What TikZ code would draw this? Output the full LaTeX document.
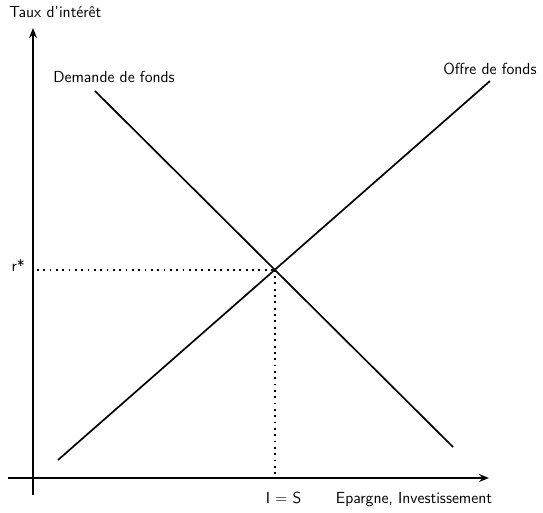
\documentclass[tikz,border=0pt]{standalone}
\usetikzlibrary{positioning,calc,arrows.meta}

\begin{document}
\begin{tikzpicture}[scale=1, every node/.style={font=\sffamily\fontsize{11.4}{13}\selectfont}]
  \def\xmax{11.4}  % lengte x-as
  \def\ymax{11.25} % lengte y-as
  \tikzset{as/.style={line width=1.2pt,-{Stealth[length=7pt,width=5.5pt]}},
           curve/.style={line width=1.2pt},
           hulp/.style={line width=1.3pt,dash pattern=on 1.3pt off 3.2pt}}

  \useasboundingbox (-0.825,-0.875) rectangle (12.75,11.95);

  % assen
  \coordinate (o) at (0,0);
  \coordinate (xs) at (-0.625,0);
  \coordinate (xe) at (\xmax,0);
  \coordinate (ys) at (0,-0.425);
  \coordinate (ye) at (0,\ymax);
  \draw[as] (xs) -- (xe);
  \draw[as] (ys) -- (ye);

  % vraag en aanbod
  \coordinate (d1) at (1.55,9.675);
  \coordinate (d2) at (10.5,0.775);
  \coordinate (s1) at (0.625,0.45);
  \coordinate (s2) at (11.425,9.925);
  \draw[curve] (d1) -- (d2);
  \draw[curve] (s1) -- (s2);

  % evenwicht
  \coordinate (eq) at (intersection of d1--d2 and s1--s2);
  \coordinate (eqy) at (eq -| o);
  \coordinate (eqx) at (eq |- o);
  \draw[hulp] ($(eqy)+(0.1,0)$) -- (eq);
  \draw[hulp] (eq) -- (eqx);

  % labels
  \node[anchor=base west, inner sep=0pt] (ylabel) at (-0.6,11.5) {Taux d'intérêt};
  \node[anchor=base] (xlabel) at (9.525,-0.625) {Epargne, Investissement};
  \node[anchor=base west, inner sep=0pt] (demande) at (0.5,9.875) {Demande de fonds};
  \node[anchor=base west, inner sep=0pt] (offre) at (10.25,10.075) {Offre de fonds};
  \node[anchor=base east, inner sep=0pt] (rstar) at ($(eqy)+(-0.2,-0.05)$) {r*};
  \node[anchor=base] (is) at ($(eqx)+(0.22,-0.625)$) {I $=$ S};
\end{tikzpicture}
\end{document}
